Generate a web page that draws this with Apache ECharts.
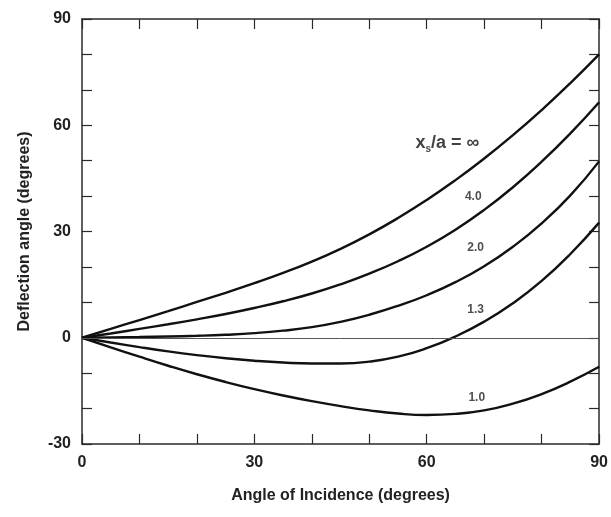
<!DOCTYPE html>
<html>
<head>
<meta charset="utf-8">
<script src="https://cdn.jsdelivr.net/npm/echarts@6/dist/echarts.min.js"></script>
<style>
  html, body { margin: 0; padding: 0; background: #fff; }
  #chart { width: 611px; height: 517px; }
</style>
</head>
<body>
<div id="chart"></div>
<script>
// angle of incidence (degrees)
var incidence = [0, 5, 10, 15, 20, 25, 30, 35, 40, 45, 50, 55, 60, 65, 70, 75, 80, 85, 90];

// deflection angle for each x_s/a (degrees)
var defInf = [0, 2.5, 5, 7.5, 10.1, 12.7, 15.4, 18.3, 21.5, 25.1, 29.2, 33.8, 38.9, 44.5, 50.6, 57.2, 64.3, 71.9, 80.0];
var def40  = [0, 1.2, 2.5, 3.8, 5.2, 6.7, 8.4, 10.3, 12.5, 15.1, 18.1, 21.6, 25.7, 30.5, 36.1, 42.5, 49.7, 57.7, 66.5];
var def20  = [0, 0.1, 0.2, 0.35, 0.55, 0.85, 1.3, 2.0, 3.0, 4.5, 6.5, 9.0, 12.0, 15.7, 20.2, 25.7, 32.3, 40.2, 49.8];
var def13  = [0, -1.35, -2.65, -3.85, -4.9, -5.8, -6.5, -7.0, -7.25, -7.25, -6.75, -5.35, -2.95, 0.35, 4.55, 9.75, 16.05, 23.65, 32.5];
var def10  = [0, -2.7, -5.35, -7.9, -10.3, -12.5, -14.5, -16.3, -17.9, -19.3, -20.5, -21.4, -21.8, -21.5, -20.5, -18.6, -15.9, -12.4, -8.2];

// tick labels that are printed
var xLabels = [0, 30, 60, 90];
var yLabels = [-30, 0, 30, 60, 90];

// curve labels (text, anchor in data coords)
var curveLabels = ['inf', '4.0', '2.0', '1.3', '1.0'];
var curveLabelPos = [[63.6, 55], [68.1, 39.7], [68.5, 25.3], [68.5, 7.8], [68.7, -17]];

function pairs(ys) {
  return incidence.map(function (x, i) { return [x, ys[i]]; });
}

var chart = echarts.init(document.getElementById('chart'));

var font = '"Liberation Sans", Arial, sans-serif';
var axisColor = '#2a2a2a';

function curve(name, ys) {
  return {
    name: name,
    type: 'line',
    smooth: 0.5,
    showSymbol: false,
    data: pairs(ys),
    lineStyle: { color: '#111', width: 2.4 },
    silent: true,
    z: 3
  };
}

function plainAxis(pos, min, max) {
  return {
    type: 'value', position: pos,
    min: min, max: max, interval: 10,
    axisLine: { show: true, onZero: false, lineStyle: { color: axisColor, width: 1.5 } },
    axisTick: { show: true, inside: true, length: 10, lineStyle: { color: axisColor, width: 1.2 } },
    axisLabel: { show: false },
    splitLine: { show: false }
  };
}

var option = {
  backgroundColor: '#fff',
  animation: false,
  grid: { left: 82, right: 9, top: 19, bottom: 73 },
  xAxis: [{
    type: 'value',
    min: 0, max: 90, interval: 10,
    name: 'Angle of Incidence (degrees)',
    nameLocation: 'middle',
    nameGap: 44,
    nameTextStyle: { fontFamily: font, fontWeight: 'bold', fontSize: 16, color: '#222' },
    axisLine: { show: true, onZero: false, lineStyle: { color: axisColor, width: 1.5 } },
    axisTick: { show: true, inside: true, length: 10, lineStyle: { color: axisColor, width: 1.2 } },
    axisLabel: {
      margin: 11,
      fontFamily: font, fontWeight: 'bold', fontSize: 16, color: '#222',
      formatter: function (v) { return xLabels.indexOf(v) >= 0 ? String(v) : ''; }
    },
    splitLine: { show: false }
  }, plainAxis('top', 0, 90)],
  yAxis: [{
    type: 'value',
    min: -30, max: 90, interval: 10,
    name: 'Deflection angle (degrees)',
    nameLocation: 'middle',
    nameGap: 49,
    nameTextStyle: { fontFamily: font, fontWeight: 'bold', fontSize: 16, color: '#222' },
    axisLine: { show: true, onZero: false, lineStyle: { color: axisColor, width: 1.5 } },
    axisTick: { show: true, inside: true, length: 10, lineStyle: { color: axisColor, width: 1.2 } },
    axisLabel: {
      margin: 11,
      fontFamily: font, fontWeight: 'bold', fontSize: 16, color: '#222',
      formatter: function (v) { return yLabels.indexOf(v) >= 0 ? String(v) : ''; }
    },
    splitLine: { show: false }
  }, plainAxis('right', -30, 90)],
  series: [
    curve('inf', defInf),
    curve('4.0', def40),
    curve('2.0', def20),
    curve('1.3', def13),
    curve('1.0', def10),
    {
      type: 'line',
      data: [],
      silent: true,
      markLine: {
        silent: true,
        symbol: 'none',
        label: { show: false },
        lineStyle: { color: '#555', width: 1, type: 'solid' },
        data: [{ yAxis: 0 }]
      }
    },
    {
      type: 'scatter',
      symbolSize: 0,
      silent: true,
      data: curveLabelPos.map(function (p, i) { return { value: p, name: curveLabels[i] }; }),
      label: {
        show: true,
        position: 'inside',
        fontFamily: font,
        fontWeight: 'bold',
        fontSize: 12,
        color: '#222',
        formatter: function (p) {
          if (p.name === 'inf') return '{x|x}{s|s}{r|/a = \u221E}';
          return p.name;
        },
        rich: {
          x: { fontFamily: font, fontWeight: 'bold', fontSize: 18, color: '#111' },
          s: { fontFamily: font, fontWeight: 'bold', fontSize: 10, color: '#111', padding: [12, 0, 0, 0] },
          r: { fontFamily: font, fontWeight: 'bold', fontSize: 18, color: '#111' }
        }
      }
    }
  ]
};

chart.setOption(option);
</script>
</body>
</html>
